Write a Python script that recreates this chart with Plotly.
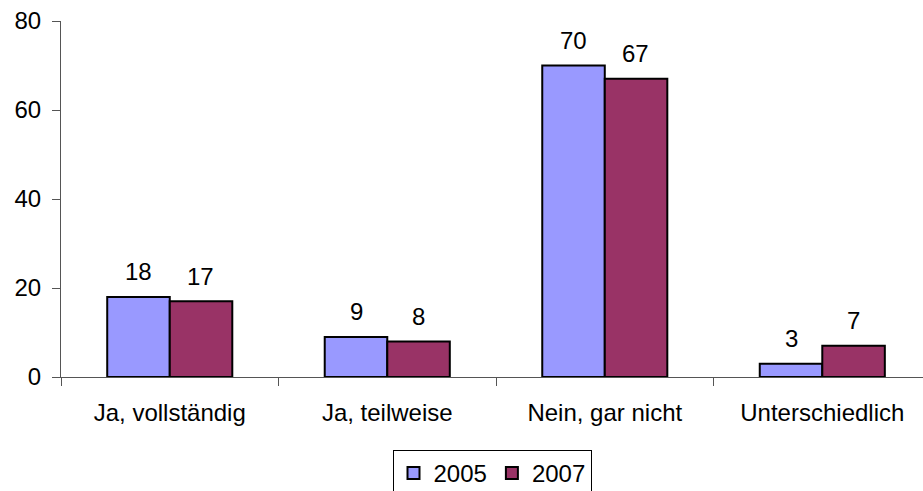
import plotly.graph_objects as go

categories = ["Ja, vollständig", "Ja, teilweise", "Nein, gar nicht", "Unterschiedlich"]
values_2005 = [18, 9, 70, 3]
values_2007 = [17, 8, 67, 7]
series_names = ["2005", "2007"]
y_ticks = [0, 20, 40, 60, 80]

FONT = "Liberation Sans, Arial, sans-serif"
FS = 24
colors = ["#9999FF", "#993366"]

fig = go.Figure()
for name, vals, col in zip(series_names, [values_2005, values_2007], colors):
    fig.add_trace(go.Bar(
        x=categories, y=vals, name=name,
        marker=dict(color=col, line=dict(color="black", width=2)),
    ))

# data labels
for i, (name, vals) in enumerate(zip(series_names, [values_2005, values_2007])):
    shift = -31 if i == 0 else 31
    for c, v in zip(categories, vals):
        fig.add_annotation(
            x=c, y=v, text=str(v), showarrow=False,
            xshift=shift, yshift=25, yanchor="middle",
            font=dict(family=FONT, size=FS, color="black"),
        )

fig.update_layout(
    width=923, height=491,
    margin=dict(l=61, r=0, t=21, b=114, pad=0, autoexpand=False),
    paper_bgcolor="white", plot_bgcolor="white",
    barmode="group", bargap=0.425, bargroupgap=0,
    font=dict(family=FONT, size=FS, color="black"),
    showlegend=True,
    legend=dict(
        orientation="h", x=0.5, xanchor="center",
        yref="container", y=1 - 450 / 491, yanchor="top",
        bordercolor="black", borderwidth=1, bgcolor="white",
        font=dict(family=FONT, size=FS, color="black"),
        itemwidth=30, tracegroupgap=0,
    ),
)
fig.update_xaxes(
    range=[-0.5, 3.463], showline=True, linecolor="#555", linewidth=1,
    ticks="outside", tickson="boundaries", ticklen=8, tickcolor="#555",
    showgrid=False, ticklabelstandoff=14,
    tickfont=dict(family=FONT, size=FS, color="black"),
)
fig.update_yaxes(
    range=[0, 80], tickvals=y_ticks, showline=True, linecolor="#555", linewidth=1,
    ticks="outside", ticklen=8, tickcolor="#555", showgrid=False, zeroline=False,
    ticklabelstandoff=6,
    tickfont=dict(family=FONT, size=FS, color="black"),
)

fig.write_html(
    "out.html",
    config={"displayModeBar": False},
    post_script="document.body.style.margin='0';document.body.style.overflow='hidden';",
)
